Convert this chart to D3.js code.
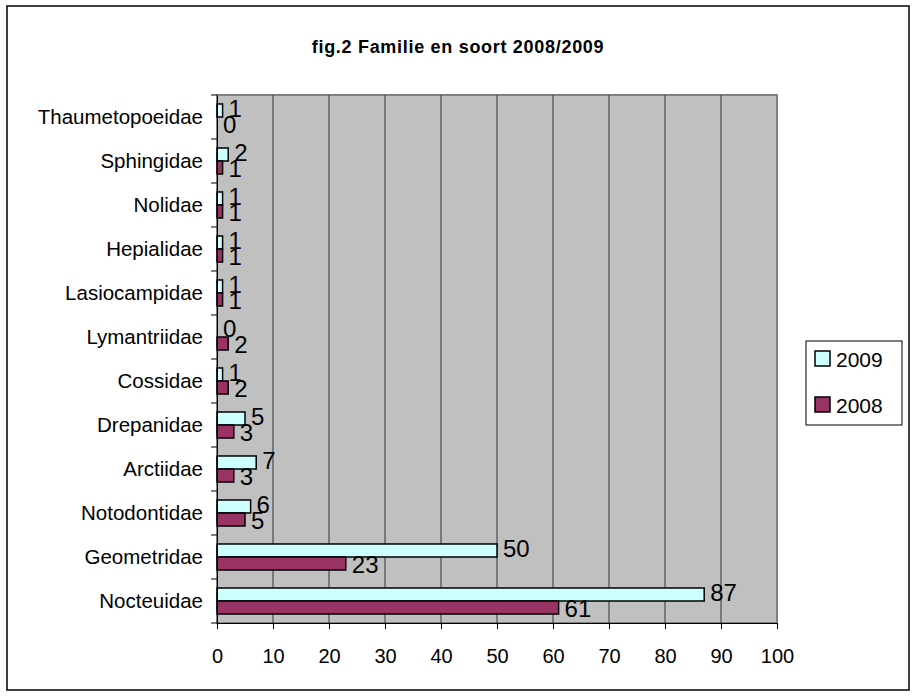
<!DOCTYPE html>
<html>
<head>
<meta charset="utf-8">
<script src="https://cdn.jsdelivr.net/npm/d3@7"></script>
<style>
  body { margin: 0; background: #fff; }
  text { font-family: "Liberation Sans", Arial, sans-serif; fill: #000; }
</style>
</head>
<body>
<svg width="916" height="697"></svg>
<script>
const svg = d3.select('svg');

// data (top to bottom)
const families = ["Thaumetopoeidae", "Sphingidae", "Nolidae", "Hepialidae", "Lasiocampidae",
  "Lymantriidae", "Cossidae", "Drepanidae", "Arctiidae", "Notodontidae", "Geometridae", "Nocteuidae"];
const values2009 = [1, 2, 1, 1, 1, 0, 1, 5, 7, 6, 50, 87];
const values2008 = [0, 1, 1, 1, 1, 2, 2, 3, 3, 5, 23, 61];
const seriesNames = ["2009", "2008"];
const xTicks = [0, 10, 20, 30, 40, 50, 60, 70, 80, 90, 100];
const colors = {"2009": "#ccffff", "2008": "#993366"};

const plot = {left: 217, right: 777, top: 95, bottom: 623};

// outer frame
svg.append('rect')
  .attr('x', 7).attr('y', 6).attr('width', 902).attr('height', 684)
  .attr('fill', '#fff').attr('stroke', '#000').attr('stroke-width', 1.5);

// title
svg.append('text')
  .attr('x', 458).attr('y', 53)
  .attr('text-anchor', 'middle')
  .style('font-size', '18px').style('font-weight', 'bold').style('letter-spacing', '0.7px')
  .text('fig.2 Familie en soort 2008/2009');

const x = d3.scaleLinear().domain([0, 100]).range([plot.left, plot.right]);
const y = d3.scaleBand().domain(families).range([plot.top, plot.bottom]);
const inner = d3.scaleBand().domain(seriesNames).range([0, y.bandwidth()]).paddingInner(0).paddingOuter(0.69);

// plot area
svg.append('rect')
  .attr('x', plot.left).attr('y', plot.top)
  .attr('width', plot.right - plot.left).attr('height', plot.bottom - plot.top)
  .attr('fill', '#c0c0c0').attr('stroke', '#808080').attr('stroke-width', 2);

// gridlines
svg.append('g').selectAll('line')
  .data(xTicks.slice(1, -1))
  .enter().append('line')
  .attr('x1', d => x(d)).attr('x2', d => x(d))
  .attr('y1', plot.top).attr('y2', plot.bottom)
  .attr('stroke', '#333').attr('stroke-width', 1);

// bars
const rows = families.map((f, i) => ({family: f, "2009": values2009[i], "2008": values2008[i]}));
const groups = svg.append('g').selectAll('g')
  .data(rows)
  .enter().append('g')
  .attr('transform', d => `translate(0, ${y(d.family)})`);

groups.selectAll('rect')
  .data(d => seriesNames.map(s => ({series: s, value: d[s]})))
  .enter().append('rect')
  .attr('x', x(0))
  .attr('y', d => inner(d.series))
  .attr('width', d => x(d.value) - x(0))
  .attr('height', inner.bandwidth())
  .attr('fill', d => colors[d.series])
  .attr('stroke', '#000').attr('stroke-width', 1.5);

groups.selectAll('text')
  .data(d => seriesNames.map(s => ({series: s, value: d[s]})))
  .enter().append('text')
  .attr('x', d => x(d.value) + 6)
  .attr('y', d => inner(d.series) + inner.bandwidth() / 2 + (d.series === "2009" ? -2 : 1))
  .attr('dy', '0.36em')
  .style('font-size', '24px')
  .text(d => d.value);

// x axis
const xAxis = svg.append('g')
  .attr('transform', `translate(0, ${plot.bottom})`)
  .call(d3.axisBottom(x).tickValues(xTicks).tickSize(6).tickPadding(20));
xAxis.selectAll('text').style('font-size', '20px');
xAxis.selectAll('path, line').attr('stroke', '#000');

// y axis: ticks on band boundaries
const yAxis = svg.append('g')
  .attr('transform', `translate(${plot.left}, 0)`)
  .call(d3.axisLeft(y).tickSize(0).tickPadding(14));
yAxis.select('.domain').attr('stroke', '#000');
yAxis.selectAll('text').style('font-size', '20.5px');
svg.append('g').selectAll('line')
  .data(d3.range(families.length + 1))
  .enter().append('line')
  .attr('x1', plot.left - 6).attr('x2', plot.left)
  .attr('y1', i => plot.top + i * y.step()).attr('y2', i => plot.top + i * y.step())
  .attr('stroke', '#000');

// legend
const legend = svg.append('g');
legend.append('rect')
  .attr('x', 806).attr('y', 341).attr('width', 96).attr('height', 84)
  .attr('fill', '#fff').attr('stroke', '#000').attr('stroke-width', 1);
const items = legend.selectAll('g')
  .data(seriesNames)
  .enter().append('g')
  .attr('transform', (d, i) => `translate(815, ${351 + i * 46})`);
items.append('rect')
  .attr('width', 15).attr('height', 15)
  .attr('fill', d => colors[d])
  .attr('stroke', '#000').attr('stroke-width', 1.5);
items.append('text')
  .attr('x', 21).attr('y', 8).attr('dy', '0.36em')
  .style('font-size', '21px')
  .text(d => d);
</script>
</body>
</html>
